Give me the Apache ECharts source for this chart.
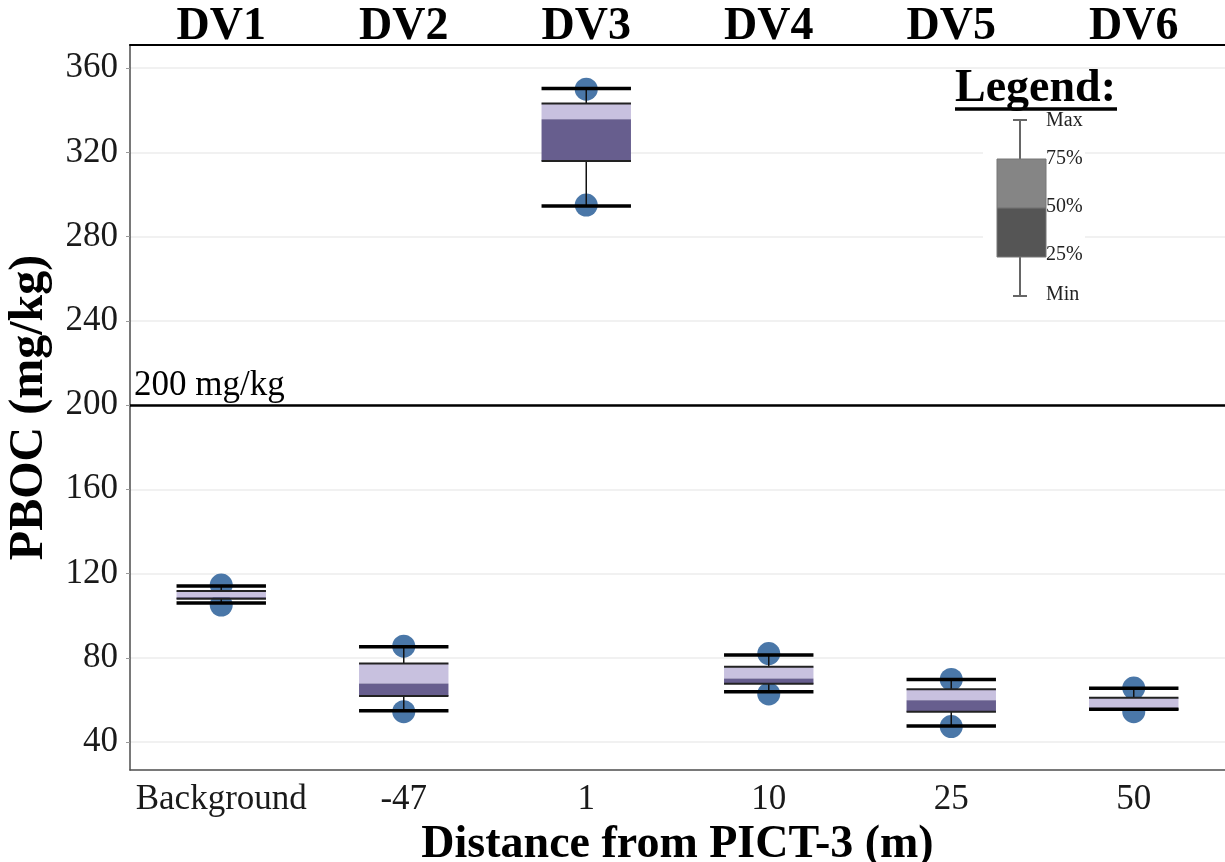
<!DOCTYPE html>
<html>
<head>
<meta charset="utf-8">
<script src="https://cdn.jsdelivr.net/npm/echarts@6/dist/echarts.min.js"></script>
<style>
  html, body { margin: 0; padding: 0; background: #fff }
  #chart { width: 1225px; height: 862px }
</style>
</head>
<body>
<div id="chart"></div>
<script>
var distances = ['Background', '-47', '1', '10', '25', '50']
var sites = ['DV1', 'DV2', 'DV3', 'DV4', 'DV5', 'DV6']

// box statistics (mg/kg)
var minVals = [106.0, 54.8, 294.6, 63.9, 47.6, 55.6]
var q1Vals = [108.0, 61.8, 315.9, 67.7, 54.4, 55.6]
var medianVals = [108.7, 67.8, 335.7, 70.2, 59.8, 55.7]
var q3Vals = [111.7, 77.3, 343.2, 75.7, 65.0, 61.0]
var maxVals = [114.1, 85.2, 350.4, 81.3, 69.7, 65.5]

// measured samples shown as dots
var highSamples = [114.5, 85.5, 350.0, 82.0, 69.7, 65.6]
var lowSamples = [105.0, 54.4, 295.0, 62.8, 47.3, 54.4]

var yTicks = [40, 80, 120, 160, 200, 240, 280, 320, 360]
var threshold = 200

var serif = 'Liberation Serif'
var lightPurple = '#c8c1df'
var darkPurple = '#675e8e'
var dotColor = '#4a77a8'

var boxData = distances.map(function (d, i) {
  return [i, minVals[i], q1Vals[i], medianVals[i], q3Vals[i], maxVals[i]]
})

var dotData = []
distances.forEach(function (d, i) {
  dotData.push([i, highSamples[i]])
  dotData.push([i, lowSamples[i]])
})

function renderBox(params, api) {
  var idx = api.value(0)
  var band = api.size([1, 0])[0]
  var half = band * 0.245
  var cx = api.coord([idx, 0])[0]
  var yMin = api.coord([idx, api.value(1)])[1]
  var yQ1 = api.coord([idx, api.value(2)])[1]
  var yMed = api.coord([idx, api.value(3)])[1]
  var yQ3 = api.coord([idx, api.value(4)])[1]
  var yMax = api.coord([idx, api.value(5)])[1]
  var x0 = cx - half
  var w = half * 2
  return {
    type: 'group',
    children: [
      { type: 'line', shape: { x1: cx, y1: yMax, x2: cx, y2: yQ3 }, style: { stroke: '#111', lineWidth: 1.5 } },
      { type: 'line', shape: { x1: cx, y1: yQ1, x2: cx, y2: yMin }, style: { stroke: '#111', lineWidth: 1.5 } },
      { type: 'rect', shape: { x: x0, y: yQ3, width: w, height: yMed - yQ3 }, style: { fill: lightPurple } },
      { type: 'rect', shape: { x: x0, y: yMed, width: w, height: yQ1 - yMed }, style: { fill: darkPurple } },
      { type: 'line', shape: { x1: x0, y1: yQ3, x2: x0 + w, y2: yQ3 }, style: { stroke: '#222', lineWidth: 2 } },
      { type: 'line', shape: { x1: x0, y1: yQ1, x2: x0 + w, y2: yQ1 }, style: { stroke: '#222', lineWidth: 2 } },
      { type: 'line', shape: { x1: x0, y1: yMax, x2: x0 + w, y2: yMax }, style: { stroke: '#000', lineWidth: 3.5 } },
      { type: 'line', shape: { x1: x0, y1: yMin, x2: x0 + w, y2: yMin }, style: { stroke: '#000', lineWidth: 3.5 } }
    ]
  }
}

// explanatory legend drawn at the top right
var legendLabels = ['Max', '75%', '50%', '25%', 'Min']
var legendY = [122, 160, 208, 256, 296]
var legendGraphics = [
  { type: 'rect', z: 4, shape: { x: 983, y: 113, width: 102, height: 192 }, style: { fill: '#fff' } },
  { type: 'text', z: 5, left: 955, top: 66, style: { text: 'Legend:', font: 'bold 46px ' + serif, fill: '#000' } },
  { type: 'line', z: 5, shape: { x1: 955, y1: 109, x2: 1117, y2: 109 }, style: { stroke: '#000', lineWidth: 3.5 } },
  { type: 'line', z: 5, shape: { x1: 1020, y1: 120, x2: 1020, y2: 296 }, style: { stroke: '#666', lineWidth: 2 } },
  { type: 'line', z: 5, shape: { x1: 1013, y1: 120, x2: 1027, y2: 120 }, style: { stroke: '#666', lineWidth: 2 } },
  { type: 'line', z: 5, shape: { x1: 1013, y1: 296, x2: 1027, y2: 296 }, style: { stroke: '#666', lineWidth: 2 } },
  { type: 'rect', z: 5, shape: { x: 997, y: 159, width: 49, height: 49 }, style: { fill: '#858585', stroke: '#777', lineWidth: 1 } },
  { type: 'rect', z: 5, shape: { x: 997, y: 208, width: 49, height: 49 }, style: { fill: '#555', stroke: '#777', lineWidth: 1 } }
]
legendLabels.forEach(function (t, i) {
  legendGraphics.push({
    type: 'text', z: 5, left: 1046, top: legendY[i] - 11,
    style: { text: t, font: '20px ' + serif, fill: '#222' }
  })
})

var chart = echarts.init(document.getElementById('chart'))
chart.setOption({
  animation: false,
  grid: { left: 130, right: 0, top: 45, bottom: 92, outerBoundsMode: 'none', containLabel: false },
  xAxis: [{
    type: 'category',
    data: distances,
    position: 'bottom',
    name: 'Distance from PICT-3 (m)',
    nameLocation: 'middle',
    nameGap: 46,
    nameTextStyle: { fontFamily: serif, fontWeight: 'bold', fontSize: 46, color: '#000' },
    axisLine: { lineStyle: { color: '#4d4d4d', width: 1.5 } },
    axisTick: { show: false },
    axisLabel: { interval: 0, hideOverlap: false, fontFamily: serif, fontSize: 35, color: '#1a1a1a', margin: 12 },
    splitLine: { show: false }
  }, {
    type: 'category',
    data: sites,
    position: 'top',
    axisLine: { lineStyle: { color: '#000', width: 2 } },
    axisTick: { show: false },
    axisLabel: { interval: 0, fontFamily: serif, fontWeight: 'bold', fontSize: 46, color: '#000', margin: -5 }
  }],
  yAxis: {
    type: 'value',
    min: 26.7,
    max: 371,
    name: 'PBOC (mg/kg)',
    nameLocation: 'middle',
    nameGap: 76,
    nameTextStyle: { fontFamily: serif, fontWeight: 'bold', fontSize: 48, color: '#000' },
    axisLine: { show: true, lineStyle: { color: '#4d4d4d', width: 1.5 } },
    axisTick: { show: true, customValues: yTicks, length: 4, lineStyle: { color: '#999' } },
    axisLabel: { customValues: yTicks, fontFamily: serif, fontSize: 35, color: '#1a1a1a', margin: 12 },
    splitLine: { show: true, lineStyle: { color: '#ececec', width: 1.5 } }
  },
  graphic: legendGraphics,
  series: [{
    type: 'scatter',
    data: dotData,
    symbolSize: 23,
    itemStyle: { color: dotColor, opacity: 1 },
    z: 2,
    markLine: {
      silent: true,
      symbol: 'none',
      lineStyle: { color: '#000', width: 2.5, type: 'solid' },
      label: {
        show: true,
        position: 'insideStartTop',
        formatter: threshold + ' mg/kg',
        fontFamily: serif,
        fontSize: 35,
        color: '#000',
        distance: [4, 2]
      },
      data: [{ yAxis: threshold }]
    }
  }, {
    type: 'custom',
    data: boxData,
    renderItem: renderBox,
    encode: { x: 0, y: [1, 2, 3, 4, 5] },
    z: 3
  }]
})
</script>
</body>
</html>
